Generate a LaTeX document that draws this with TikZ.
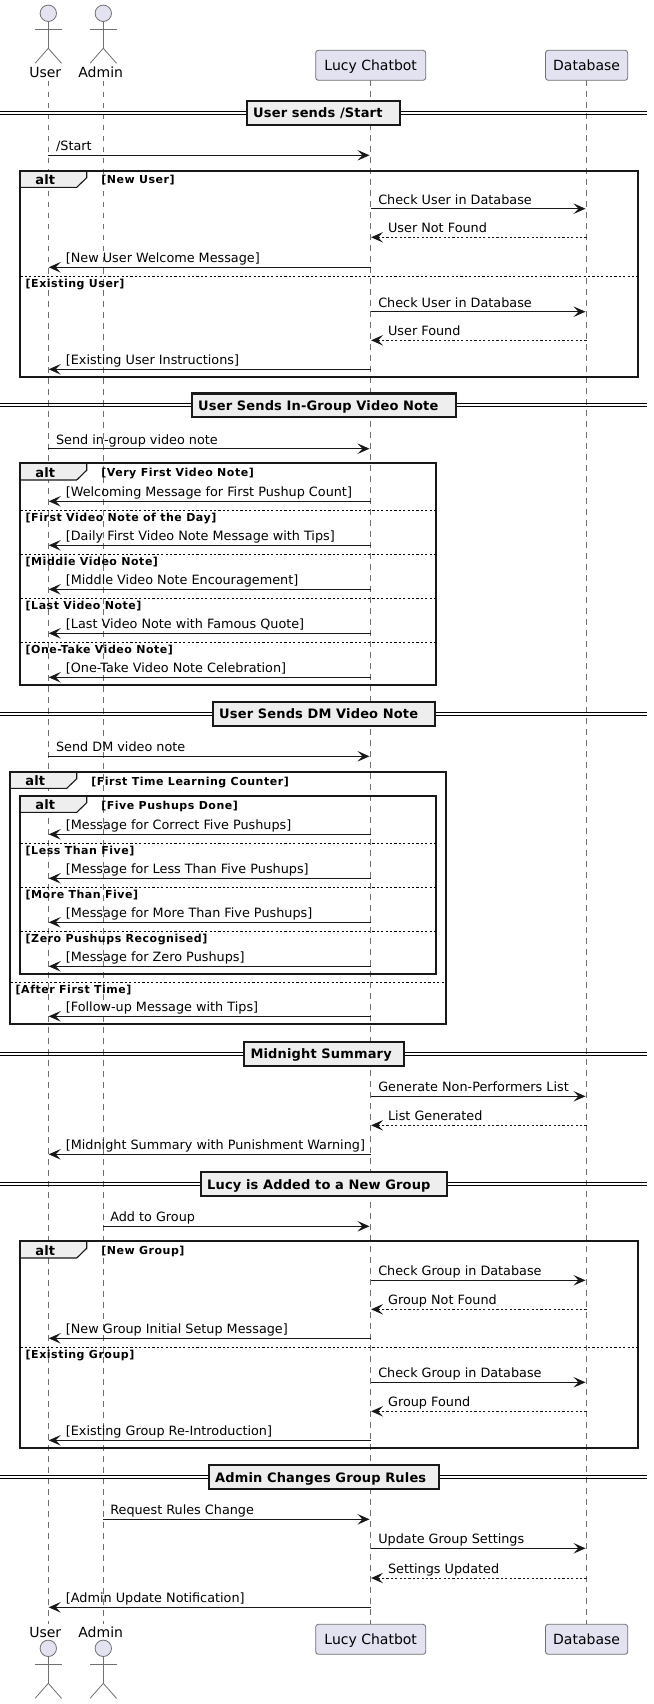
\documentclass[tikz,border=0pt]{standalone}
\usepackage{fontspec}
\setmainfont{DejaVu Sans}
\usetikzlibrary{arrows.meta}
\definecolor{ink}{HTML}{181818}
\definecolor{soft}{HTML}{707070}
\definecolor{partfill}{HTML}{E2E2F0}
\definecolor{framefill}{HTML}{EEEEEE}
\newfontfamily\condfont[LetterSpace=4.8]{DejaVu Sans Bold}
\newfontfamily\divfont[LetterSpace=1.2]{DejaVu Sans Bold}
\newcounter{nn}
\newcommand{\nid}{n\arabic{nn}}
\tikzset{
  x=1pt,y=-1pt,
  lifeline/.style={draw=soft,line width=0.7pt,dash pattern=on 5.5pt off 5.5pt},
  solidmsg/.style={draw=ink,line width=1pt,-{Stealth[length=12pt,width=10.5pt,inset=5pt,color=ink]}},
  dashmsg/.style={draw=ink,line width=1pt,dash pattern=on 2.2pt off 2.2pt,-{Stealth[length=12pt,width=10.5pt,inset=5pt,color=ink]}},
  msgtext/.style={anchor=base west,inner sep=0pt,font=\fontsize{12.8}{16}\selectfont,text=black},
  parttext/.style={anchor=base,inner sep=0pt,font=\fontsize{14}{18}\selectfont,text=black},
  partbox/.style={draw=soft,line width=0.8pt,fill=partfill,rounded corners=2.7pt},
  actorline/.style={draw=soft,line width=0.8pt},
  actorhead/.style={draw=soft,line width=0.8pt,fill=partfill},
  framebox/.style={draw=ink,line width=1.65pt},
  frametab/.style={draw=ink,line width=1.1pt,fill=framefill},
  frametext/.style={anchor=base,inner sep=0pt,font=\divfont\fontsize{13}{16}\selectfont},
  condtext/.style={anchor=base west,inner sep=0pt,font=\condfont\fontsize{11}{14}\selectfont},
  sepline/.style={draw=black,line width=0.9pt,dash pattern=on 2.2pt off 2.2pt},
  divline/.style={draw=black,line width=1pt},
  divbox/.style={draw=ink,line width=2.2pt,fill=framefill},
  divtext/.style={anchor=base west,inner sep=0pt,font=\divfont\fontsize{13}{16}\selectfont},
}
\newcommand{\rmsg}[5][7.6]{\stepcounter{nn}\draw[solidmsg] (#2 |- 0,#4) -- ([xshift=-1pt]#3 |- 0,#4);
  \path (#2 |- 0,#4) ++(#1,-4.6) node[msgtext] (\nid) {#5};}
\newcommand{\lmsg}[4]{\stepcounter{nn}\draw[solidmsg] (#1 |- 0,#3) -- ([xshift=0.4pt]#2 |- 0,#3);
  \path (#2 |- 0,#3) ++(17.4,-4.6) node[msgtext] (\nid) {#4};}
\newcommand{\dmsg}[4]{\stepcounter{nn}\draw[dashmsg] (#1 |- 0,#3) -- ([xshift=0.6pt]#2 |- 0,#3);
  \path (#2 |- 0,#3) ++(17.4,-4.6) node[msgtext] (\nid) {#4};}
\newcommand{\altframe}[6]{%
  \draw[frametab] (#1,#2) -- (#1+66.4,#2) -- (#1+66.4,#2+7) -- (#1+56.4,#2+16.7) -- (#1,#2+16.7) -- cycle;
  \draw[framebox] (#1,#2) rectangle (#3,#4);
  \stepcounter{nn}\node[frametext] (\nid) at (#1+25,#2+14.2) {alt};
  \stepcounter{nn}\node[condtext] (\nid) at (#1+80.8,#2+13.3) {#5};}
\newcommand{\sepl}[4]{%
  \draw[sepline] (#1,#3) -- (#2,#3);
  \stepcounter{nn}\node[condtext] (\nid) at (#1+5.2,#3+11.3) {#4};}
\newcommand{\divd}[5]{%
  \draw[divline] (0,#1-1.4) -- (647,#1-1.4);
  \draw[divline] (0,#1+1.4) -- (647,#1+1.4);
  \draw[divbox] (#2,#1-11.9) rectangle (#3,#1+11.9);
  \stepcounter{nn}\node[divtext] (\nid) at (#2+6,#1+4.9) {#4};}
\newcommand{\actor}[2]{%
  \draw[actorhead] (#1,#2) circle (8.2);
  \draw[actorline] (#1,#2+8.2) -- (#1,#2+35);
  \draw[actorline] (#1-13.2,#2+16) -- (#1+13.2,#2+16);
  \draw[actorline] (#1-13.2,#2+50) -- (#1,#2+35) -- (#1+13.2,#2+50);}
\begin{document}
\begin{tikzpicture}
\fill[white] (0,0) rectangle (653,1704);
\useasboundingbox (0,0) rectangle (653,1704);
\coordinate (user) at (48.3,0);
\coordinate (admin) at (103.3,0);
\coordinate (lucy) at (370.5,0);
\coordinate (db) at (586.5,0);
\coordinate (userA) at (48.3,81);
\coordinate (userB) at (48.3,1624);
\coordinate (adminA) at (103.3,81);
\coordinate (adminB) at (103.3,1624);
\coordinate (lucyA) at (370.5,80.3);
\coordinate (lucyB) at (370.5,1624.3);
\coordinate (dbA) at (586.5,80.3);
\coordinate (dbB) at (586.5,1624.3);
\draw[lifeline] (userA) -- (userB);
\draw[lifeline] (adminA) -- (adminB);
\draw[lifeline] (lucyA) -- (lucyB);
\draw[lifeline] (dbA) -- (dbB);
\actor{48.3}{13.3}
\actor{103.3}{13.3}
\node[parttext] (userT) at (45.3,78) {User};
\node[parttext] (adminT) at (100.7,78) {Admin};
\draw[partbox] (315.7,50.3) rectangle (425.7,80.3);
\node[parttext] (lucyT) at (370.7,70.2) {Lucy Chatbot};
\draw[partbox] (545.5,50.3) rectangle (627.7,80.3);
\node[parttext] (dbT) at (586.6,70.2) {Database};
\actor{48.3}{1648.3}
\actor{103.3}{1648.3}
\node[parttext] (userU) at (45.3,1637.4) {User};
\node[parttext] (adminU) at (100.7,1637.4) {Admin};
\draw[partbox] (315.7,1624.3) rectangle (425.7,1654.3);
\node[parttext] (lucyU) at (370.7,1644.2) {Lucy Chatbot};
\draw[partbox] (545.5,1624.3) rectangle (627.7,1654.3);
\node[parttext] (dbU) at (586.6,1644.2) {Database};
\divd{112.8}{247}{400}{User sends /Start}{}
\rmsg{user}{lucy}{155.3}{/Start}
\altframe{20.3}{170.7}{638}{377.3}{[New User]}{}
\rmsg{lucy}{db}{208.7}{Check User in Database}
\dmsg{db}{lucy}{237.3}{User Not Found}
\lmsg{lucy}{user}{267.3}{[New User Welcome Message]}
\sepl{20.3}{638}{276.3}{[Existing User]}
\rmsg{lucy}{db}{311.7}{Check User in Database}
\dmsg{db}{lucy}{340.3}{User Found}
\lmsg{lucy}{user}{369.3}{[Existing User Instructions]}
\divd{405.3}{192}{455.7}{User Sends In-Group Video Note}{}
\rmsg{user}{lucy}{448.7}{Send in-group video note}
\altframe{20.3}{463.3}{435.7}{685.3}{[Very First Video Note]}{}
\lmsg{lucy}{user}{501.3}{[Welcoming Message for First Pushup Count]}
\sepl{20.3}{435.7}{510.3}{[First Video Note of the Day]}
\lmsg{lucy}{user}{545.3}{[Daily First Video Note Message with Tips]}
\sepl{20.3}{435.7}{554.3}{[Middle Video Note]}
\lmsg{lucy}{user}{589.3}{[Middle Video Note Encouragement]}
\sepl{20.3}{435.7}{598.3}{[Last Video Note]}
\lmsg{lucy}{user}{633.3}{[Last Video Note with Famous Quote]}
\sepl{20.3}{435.7}{642.3}{[One-Take Video Note]}
\lmsg{lucy}{user}{677.3}{[One-Take Video Note Celebration]}
\divd{713.9}{213}{434.7}{User Sends DM Video Note}{}
\rmsg{user}{lucy}{756.3}{Send DM video note}
\altframe{10.3}{771.7}{445.7}{1024.3}{[First Time Learning Counter]}{}
\altframe{20.3}{795.7}{435.7}{974.3}{[Five Pushups Done]}{}
\lmsg{lucy}{user}{834.3}{[Message for Correct Five Pushups]}
\sepl{20.3}{435.7}{843.3}{[Less Than Five]}
\lmsg{lucy}{user}{878.3}{[Message for Less Than Five Pushups]}
\sepl{20.3}{435.7}{887.3}{[More Than Five]}
\lmsg{lucy}{user}{922.3}{[Message for More Than Five Pushups]}
\sepl{20.3}{435.7}{931.3}{[Zero Pushups Recognised]}
\lmsg{lucy}{user}{966.3}{[Message for Zero Pushups]}
\sepl{10.3}{445.7}{982.3}{[After First Time]}
\lmsg{lucy}{user}{1016.3}{[Follow-up Message with Tips]}
\divd{1053.7}{244.3}{403.7}{Midnight Summary}{}
\rmsg{lucy}{db}{1096.3}{Generate Non-Performers List}
\dmsg{db}{lucy}{1125.3}{List Generated}
\lmsg{lucy}{user}{1154.3}{[Midnight Summary with Punishment Warning]}
\divd{1184.1}{201}{446.7}{Lucy is Added to a New Group}{}
\rmsg[6.8]{admin}{lucy}{1226.3}{Add to Group}
\altframe{20.3}{1241.3}{638}{1448.3}{[New Group]}{}
\rmsg{lucy}{db}{1280.3}{Check Group in Database}
\dmsg{db}{lucy}{1309.3}{Group Not Found}
\lmsg{lucy}{user}{1338.3}{[New Group Initial Setup Message]}
\sepl{20.3}{638}{1347}{[Existing Group]}
\rmsg{lucy}{db}{1382.3}{Check Group in Database}
\dmsg{db}{lucy}{1411.3}{Group Found}
\lmsg{lucy}{user}{1440.3}{[Existing Group Re-Introduction]}
\divd{1477.2}{209}{438.7}{Admin Changes Group Rules}{}
\rmsg[6.8]{admin}{lucy}{1519.3}{Request Rules Change}
\rmsg{lucy}{db}{1548.3}{Update Group Settings}
\dmsg{db}{lucy}{1578}{Settings Updated}
\lmsg{lucy}{user}{1607.3}{[Admin Update Notification]}
\end{tikzpicture}
\end{document}
